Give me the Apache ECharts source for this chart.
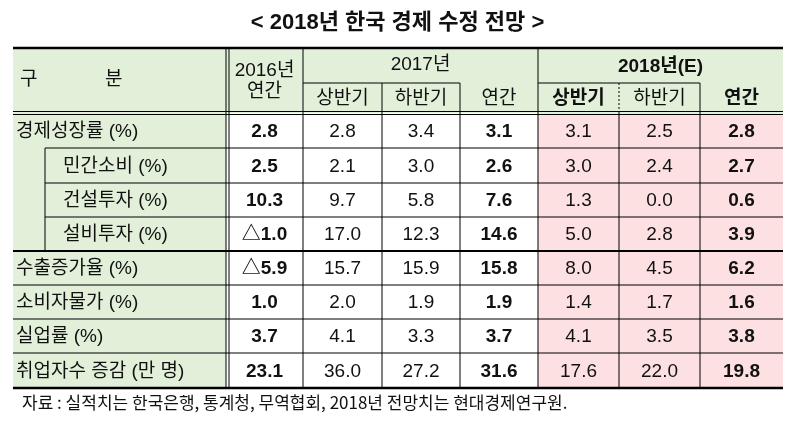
<!DOCTYPE html>
<html>
<head>
<meta charset="utf-8">
<script src="https://cdn.jsdelivr.net/npm/echarts@6/dist/echarts.min.js"></script>
<style>
  html, body { margin: 0; padding: 0; background: #fff; }
  #main { width: 795px; height: 426px; }
</style>
</head>
<body>
<div id="main"></div>
<script>
const title = '< 2018년 한국 경제 수정 전망 >';
const source = '자료 : 실적치는 한국은행, 통계청, 무역협회, 2018년 전망치는 현대경제연구원.';
const rowLabels = ['경제성장률 (%)', '민간소비 (%)', '건설투자 (%)', '설비투자 (%)', '수출증가율 (%)', '소비자물가 (%)', '실업률 (%)', '취업자수 증감 (만 명)'];
const subRow = [false, true, true, true, false, false, false, false];
const y2016 = ['2.8', '2.5', '10.3', '△1.0', '△5.9', '1.0', '3.7', '23.1'];
const h1_2017 = ['2.8', '2.1', '9.7', '17.0', '15.7', '2.0', '4.1', '36.0'];
const h2_2017 = ['3.4', '3.0', '5.8', '12.3', '15.9', '1.9', '3.3', '27.2'];
const y2017 = ['3.1', '2.6', '7.6', '14.6', '15.8', '1.9', '3.7', '31.6'];
const h1_2018 = ['3.1', '3.0', '1.3', '5.0', '8.0', '1.4', '4.1', '17.6'];
const h2_2018 = ['2.5', '2.4', '0.0', '2.8', '4.5', '1.7', '3.5', '22.0'];
const y2018 = ['2.8', '2.7', '0.6', '3.9', '6.2', '1.6', '3.8', '19.8'];

const dataCols = [y2016, h1_2017, h2_2017, y2017, h1_2018, h2_2018, y2018];
const boldCol = [true, false, false, true, false, false, true];
const pinkCol = [false, false, false, false, true, true, true];

// layout
const colX = [13, 226, 303, 382, 460, 538, 619, 700, 783];
const rowY = [113, 148, 183, 217, 251, 285, 319, 353, 388];
const headTop = 48, headMid = 83, subX = 45;
const GREEN = '#e2f0d9', PINK = '#fde0e2';
const FONT = '"Liberation Sans", "Noto Sans CJK KR", sans-serif';
const KFONT = '"Noto Sans CJK KR", sans-serif';

const g = [];
function rect(x, y, w, h, fill) {
  g.push({ type: 'rect', shape: { x, y, width: w, height: h }, style: { fill }, silent: true });
}
function line(x1, y1, x2, y2, w, dash, color) {
  g.push({ type: 'line', shape: { x1, y1, x2, y2 }, style: { stroke: color || '#000', lineWidth: w || 1, lineDash: dash || null }, silent: true });
}
function text(t, x, y, opts) {
  g.push({ type: 'text', x, y, silent: true, style: Object.assign({
    text: t, fill: '#111', font: '19px ' + FONT, align: 'center', verticalAlign: 'middle' }, opts || {}) });
}

// backgrounds
rect(colX[0], headTop, colX[8] - colX[0], rowY[0] - headTop, GREEN);
rect(colX[0], rowY[0], colX[1] - colX[0], rowY[8] - rowY[0], GREEN);
for (let c = 0; c < 7; c++) {
  rect(colX[c + 1], rowY[0], colX[c + 2] - colX[c + 1], rowY[8] - rowY[0], pinkCol[c] ? PINK : '#fff');
}

// header text
text('구', 20, 80, { align: 'left' });
text('분', 105, 80, { align: 'left' });
text('2016년', (colX[1] + colX[2]) / 2, 71);
text('연간', (colX[1] + colX[2]) / 2, 92);
text('2017년', (colX[2] + colX[5]) / 2, 65);
text('상반기', (colX[2] + colX[3]) / 2, 99);
text('하반기', (colX[3] + colX[4]) / 2, 99);
text('연간', (colX[4] + colX[5]) / 2, 99);
text('2018년(E)', (colX[5] + colX[8]) / 2, 67, { font: 'bold 19px ' + FONT });
text('상반기', (colX[5] + colX[6]) / 2, 99, { font: 'bold 19px ' + FONT });
text('하반기', (colX[6] + colX[7]) / 2, 99);
text('연간', (colX[7] + colX[8]) / 2, 99, { font: 'bold 19px ' + FONT });

// data rows
rowLabels.forEach((lab, r) => {
  const cy = (rowY[r] + rowY[r + 1]) / 2 + 1;
  text(lab, subRow[r] ? 63 : 16, cy, { align: 'left', font: '19px ' + FONT });
  dataCols.forEach((col, c) => {
    text(col[r], (colX[c + 1] + colX[c + 2]) / 2, cy,
      { font: (boldCol[c] ? 'bold ' : '') + '19px ' + FONT });
  });
});

// lines
line(colX[0], headTop, colX[8], headTop, 2.5);
line(colX[2], headMid, colX[4], headMid, 1);
line(colX[5], headMid, colX[7], headMid, 1);
line(colX[3], headMid, colX[3], rowY[8], 1);
line(colX[6], headMid, colX[6], rowY[0], 1, [2, 2]);
line(colX[6], rowY[0], colX[6], rowY[8], 1);
line(colX[4], headMid, colX[4], rowY[8], 1);
line(colX[7], headMid, colX[7], rowY[8], 1);
line(colX[2], headTop, colX[2], rowY[8], 1);
line(colX[5], headTop, colX[5], rowY[8], 1);
line(colX[1], headTop, colX[1], rowY[8], 1);
line(colX[1] + 3, headTop, colX[1] + 3, rowY[8], 1);
line(colX[0], rowY[0] - 1.5, colX[8], rowY[0] - 1.5, 1);
line(colX[0], rowY[0] + 1.5, colX[8], rowY[0] + 1.5, 1);
for (let r = 1; r < 8; r++) {
  const start = subRow[r] ? subX : colX[0];
  line(start, rowY[r], colX[8], rowY[r], r === 4 ? 1.8 : 1);
}
line(subX, rowY[1], subX, rowY[4], 1);
line(colX[0], rowY[8], colX[8], rowY[8], 2.5);

const chart = echarts.init(document.getElementById('main'), null, { renderer: 'canvas' });
chart.setOption({
  animation: false,
  title: {
    text: title, left: 'center', top: 7,
    textStyle: { fontFamily: FONT, fontSize: 22, fontWeight: 'bold', color: '#111' }
  },
  graphic: g.concat([{
    type: 'text', left: 22, top: 394, silent: true,
    style: { text: source, font: '17px ' + KFONT, fill: '#111' }
  }])
});
</script>
</body>
</html>
